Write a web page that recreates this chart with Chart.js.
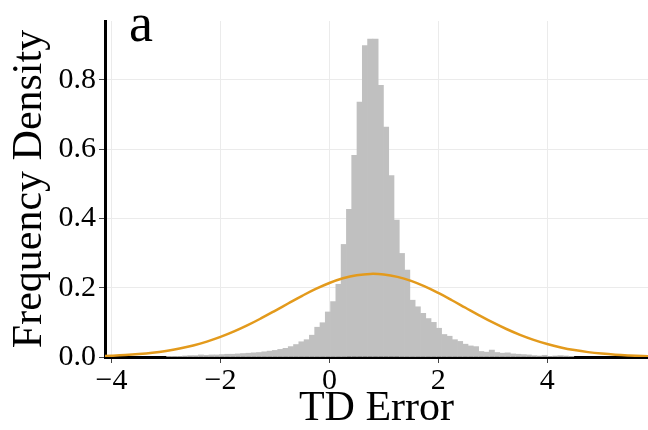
<!DOCTYPE html>
<html lang="en">
<head>
    <meta charset="UTF-8">
    <title>TD Error</title>
    <script src="https://cdn.jsdelivr.net/npm/chart.js"></script>
    <style>
        body { margin: 0; background: #fff; }
    </style>
</head>
<body>
    <canvas id="td_error" width="648" height="430"></canvas>

<script>
// histogram bins (centers) and heights
const binCenters = [
    -2.940, -2.843, -2.746, -2.649, -2.552, -2.455, -2.358, -2.261, -2.163, -2.066,
    -1.969, -1.872, -1.775, -1.678, -1.581, -1.484, -1.387, -1.290, -1.193, -1.096,
    -0.999, -0.901, -0.804, -0.707, -0.610, -0.513, -0.416, -0.319, -0.222, -0.124,
    -0.027, 0.070, 0.167, 0.264, 0.361, 0.458, 0.555, 0.653, 0.750, 0.847,
    0.944, 1.041, 1.138, 1.235, 1.332, 1.429, 1.526, 1.623, 1.721, 1.818,
    1.915, 2.012, 2.109, 2.206, 2.303, 2.400, 2.497, 2.594, 2.692, 2.789,
    2.886, 2.983, 3.080, 3.177, 3.274, 3.371, 3.468, 3.565, 3.662, 3.760,
    3.857, 3.954, 4.051, 4.148, 4.245, 4.342, 4.439
];
const binHeights = [
    0.002, 0.002, 0.002, 0.003, 0.004, 0.004, 0.006, 0.005, 0.006, 0.006,
    0.007, 0.008, 0.008, 0.009, 0.010, 0.011, 0.012, 0.013, 0.015, 0.017,
    0.019, 0.022, 0.025, 0.030, 0.036, 0.044, 0.050, 0.063, 0.086, 0.099,
    0.130, 0.160, 0.210, 0.325, 0.426, 0.582, 0.736, 0.899, 0.918, 0.918,
    0.784, 0.664, 0.524, 0.395, 0.299, 0.251, 0.164, 0.145, 0.126, 0.111,
    0.100, 0.083, 0.065, 0.060, 0.050, 0.045, 0.037, 0.032, 0.030, 0.016,
    0.014, 0.020, 0.013, 0.011, 0.012, 0.009, 0.008, 0.007, 0.006, 0.004,
    0.003, 0.005, 0.002, 0.003, 0.004, 0.003, 0.002
];

// fitted curve (orange)
const curveX = [
    -4.25, -4.0, -3.75, -3.5, -3.25, -3.0, -2.75, -2.5, -2.25, -2.0,
    -1.75, -1.5, -1.25, -1.0, -0.75, -0.5, -0.25, 0, 0.25, 0.5,
    0.75, 1.0, 1.25, 1.5, 1.75, 2.0, 2.25, 2.5, 2.75, 3.0,
    3.25, 3.5, 3.75, 4.0, 4.25, 4.5, 4.75, 5.0, 5.25, 5.5,
    5.75, 6.0
];
const curveY = [
    0.0023, 0.0037, 0.0056, 0.0084, 0.0122, 0.0175, 0.0244, 0.0333, 0.0444, 0.0579,
    0.0738, 0.0919, 0.1120, 0.1333, 0.1552, 0.1766, 0.1965, 0.2137, 0.2272, 0.2361,
    0.2399, 0.2383, 0.2313, 0.2196, 0.2037, 0.1848, 0.1639, 0.1421, 0.1204, 0.0997,
    0.0808, 0.0639, 0.0495, 0.0374, 0.0277, 0.0200, 0.0141, 0.0098, 0.0066, 0.0044,
    0.0028, 0.0018
];

// tick labels
const xTicks = [-4, -2, 0, 2, 4];
const yTicks = [0, 0.2, 0.4, 0.6, 0.8];

const serif = '"Liberation Serif", "Times New Roman", serif';

let barData = [];
for (let i = 0; i < binCenters.length; i++) {
    barData.push({ x: binCenters[i], y: binHeights[i] });
}
let lineData = [];
for (let i = 0; i < curveX.length; i++) {
    lineData.push({ x: curveX[i], y: curveY[i] });
}

// the little "a" in the corner
const panelLetter = {
    id: 'panelLetter',
    afterDraw(chart) {
        const ctx = chart.ctx;
        ctx.save();
        ctx.font = '54px ' + serif;
        ctx.fillStyle = '#000';
        ctx.textBaseline = 'alphabetic';
        ctx.fillText('a', 129, 41);
        ctx.restore();
    }
};

const config = {
    type: 'bar',
    data: {
        datasets: [
            {
                type: 'line',
                label: 'fit',
                data: lineData,
                borderColor: '#e39a1c',
                borderWidth: 2.5,
                pointRadius: 0,
                tension: 0.4,
                fill: false,
                order: 0
            },
            {
                label: 'TD error',
                data: barData,
                backgroundColor: '#c0c0c0',
                borderWidth: 0,
                barPercentage: 1,
                categoryPercentage: 1,
                order: 1
            }
        ]
    },
    options: {
        responsive: false,
        animation: false,
        devicePixelRatio: 1,
        layout: { padding: { top: 20, right: 0, left: 0, bottom: 0 } },
        plugins: {
            legend: { display: false },
            tooltip: { enabled: false }
        },
        scales: {
            x: {
                type: 'linear',
                min: -4.12,
                max: 5.85,
                offset: false,
                afterBuildTicks: (s) => { s.ticks = xTicks.map(v => ({ value: v })); },
                afterFit: (s) => { s.height = 73; },
                ticks: {
                    color: '#000',
                    font: { family: serif, size: 30 },
                    padding: 0,
                    maxRotation: 0,
                    callback: (v) => v < 0 ? '\u2212' + Math.abs(v) : String(v)
                },
                grid: { color: '#ebebeb', offset: false, tickColor: '#444', tickLength: 6 },
                border: { color: '#000', width: 3 },
                title: {
                    display: true,
                    text: 'TD Error',
                    color: '#000',
                    font: { family: serif, size: 42, lineHeight: 1 },
                    padding: { top: 0, bottom: 0 }
                }
            },
            y: {
                min: 0,
                max: 0.97,
                afterBuildTicks: (s) => { s.ticks = yTicks.map(v => ({ value: v })); },
                afterFit: (s) => { s.width = 105; },
                ticks: {
                    color: '#000',
                    font: { family: serif, size: 30 },
                    padding: 3,
                    callback: (v) => v.toFixed(1)
                },
                grid: { color: '#ebebeb', tickColor: '#444', tickLength: 6 },
                border: { color: '#000', width: 3 },
                title: {
                    display: true,
                    text: 'Frequency Density',
                    color: '#000',
                    font: { family: serif, size: 42, lineHeight: 1 },
                    padding: { top: 9, bottom: 0 }
                }
            }
        }
    },
    plugins: [panelLetter]
};

var chartTD = new Chart(document.getElementById('td_error'), config);
</script>
</body>
</html>
